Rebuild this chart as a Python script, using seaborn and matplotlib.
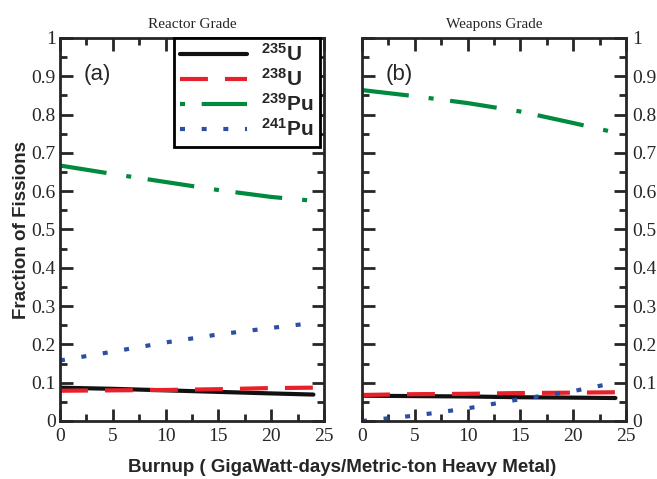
#!/usr/bin/env python3
# -*- coding: utf-8 -*-
"""
Fraction of fissions vs burnup, reactor grade vs weapons grade fuel
"""

#%% Import modules

import pandas as pd
import seaborn as sns
import matplotlib.pyplot as plt
from matplotlib.ticker import MultipleLocator


#%% Data

burnup = [0, 5, 10, 15, 20, 24]
isotopes = ['235U', '238U', '239Pu', '241Pu']

reactor_u235 = [0.087, 0.084, 0.080, 0.076, 0.072, 0.069]
reactor_u238 = [0.079, 0.080, 0.081, 0.083, 0.086, 0.087]
reactor_pu239 = [0.667, 0.645, 0.624, 0.603, 0.585, 0.575]
reactor_pu241 = [0.158, 0.181, 0.205, 0.226, 0.243, 0.256]

weapons_u235 = [0.066, 0.065, 0.064, 0.062, 0.061, 0.060]
weapons_u238 = [0.068, 0.070, 0.071, 0.073, 0.074, 0.075]
weapons_pu239 = [0.864, 0.848, 0.830, 0.808, 0.778, 0.753]
weapons_pu241 = [0.000, 0.014, 0.033, 0.057, 0.078, 0.100]

panel_titles = ['Reactor Grade', 'Weapons Grade']
panel_tags = ['(a)', '(b)']
xticks = [0, 5, 10, 15, 20, 25]
yticks = [0, 0.1, 0.2, 0.3, 0.4, 0.5, 0.6, 0.7, 0.8, 0.9, 1]
ytick_labels = ['0', '0.1', '0.2', '0.3', '0.4', '0.5', '0.6', '0.7', '0.8', '0.9', '1']


#%% Arrange df

def long_df(series):
    rows = []
    for iso, vals in zip(isotopes, series):
        for b, v in zip(burnup, vals):
            rows.append({'burnup': b, 'fraction': v, 'isotope': iso})
    return pd.DataFrame(rows)

df_reactor = long_df([reactor_u235, reactor_u238, reactor_pu239, reactor_pu241])
df_weapons = long_df([weapons_u235, weapons_u238, weapons_pu239, weapons_pu241])

palette = {'235U': '#111111', '238U': '#e8202a', '239Pu': '#008a3e', '241Pu': '#2c4fa3'}
dashes = {'235U': '', '238U': (6.7, 4.1), '239Pu': (11.3, 4.8, 1.2, 4.0), '241Pu': (1.2, 4.0)}
# legend samples start at a different point in the pattern (green begins with the dot)
legend_styles = {'235U': '-', '238U': (0, (6.7, 4.1)), '239Pu': (16.1, (11.3, 4.8, 1.2, 4.0)),
                 '241Pu': (0, (1.2, 4.0))}
labels = {'235U': r'$\mathbf{^{235}U}$', '238U': r'$\mathbf{^{238}U}$',
          '239Pu': r'$\mathbf{^{239}Pu}$', '241Pu': r'$\mathbf{^{241}Pu}$'}


#%% Plot

sns.set_style('ticks')
plt.rcParams['font.family'] = ['Liberation Serif', 'DejaVu Serif']
plt.rcParams['mathtext.fontset'] = 'custom'
plt.rcParams['mathtext.rm'] = 'Liberation Sans'
plt.rcParams['mathtext.bf'] = 'Liberation Sans:bold'

fig = plt.figure(figsize=(6.57, 4.79), dpi=100)
ax1 = fig.add_axes([0.0913, 0.1211, 0.4018, 0.7996])
ax2 = fig.add_axes([0.5510, 0.1211, 0.4018, 0.7996])

for ax, data, title, tag in zip([ax1, ax2], [df_reactor, df_weapons], panel_titles, panel_tags):
    sns.lineplot(data=data, x='burnup', y='fraction', hue='isotope', style='isotope',
                 palette=palette, dashes=dashes, linewidth=3, ax=ax, legend=False)
    ax.set_xticks(xticks, [str(v) for v in xticks])
    ax.set_yticks(yticks, ytick_labels)
    ax.xaxis.set_minor_locator(MultipleLocator(2.5))
    ax.yaxis.set_minor_locator(MultipleLocator(0.05))
    ax.set_xlim(0, 25)
    ax.set_ylim(0, 1)
    ax.tick_params(which='both', direction='in', top=True, right=True, width=2, labelsize=14, pad=3)
    ax.tick_params(axis='x', pad=5)
    ax.tick_params(which='major', length=9)
    ax.tick_params(which='minor', length=5)
    for sp in ax.spines.values():
        sp.set_linewidth(2)
    ax.set_xlabel('')
    ax.set_ylabel('')
    ax.set_title(title, fontsize=11, pad=7)
    ax.text(2.2, 0.905, tag, fontsize=16, family='Liberation Sans', va='center')

ax2.tick_params(axis='y', labelleft=False, labelright=True, pad=4.5)

handles = [plt.Line2D([], [], color=palette[i], linewidth=3, linestyle=legend_styles[i])
           for i in isotopes]
leg = ax1.legend(handles, [labels[i] for i in isotopes], loc='upper right',
                 bbox_to_anchor=(0.985, 1.0), borderaxespad=0, fontsize=15,
                 handlelength=3.2, handletextpad=0.7, labelspacing=0.15,
                 fancybox=False, framealpha=1, edgecolor='black', borderpad=0.3)
leg.get_frame().set_linewidth(2)

fig.text(0.033, 0.52, 'Fraction of Fissions', rotation=90, ha='center', va='center',
         fontsize=13.5, fontweight='bold', family='Liberation Sans')
fig.text(0.52, 0.025, 'Burnup ( GigaWatt-days/Metric-ton Heavy Metal)', ha='center',
         va='center', fontsize=13.5, fontweight='bold', family='Liberation Sans')

fig.savefig('out.png', dpi=100)
